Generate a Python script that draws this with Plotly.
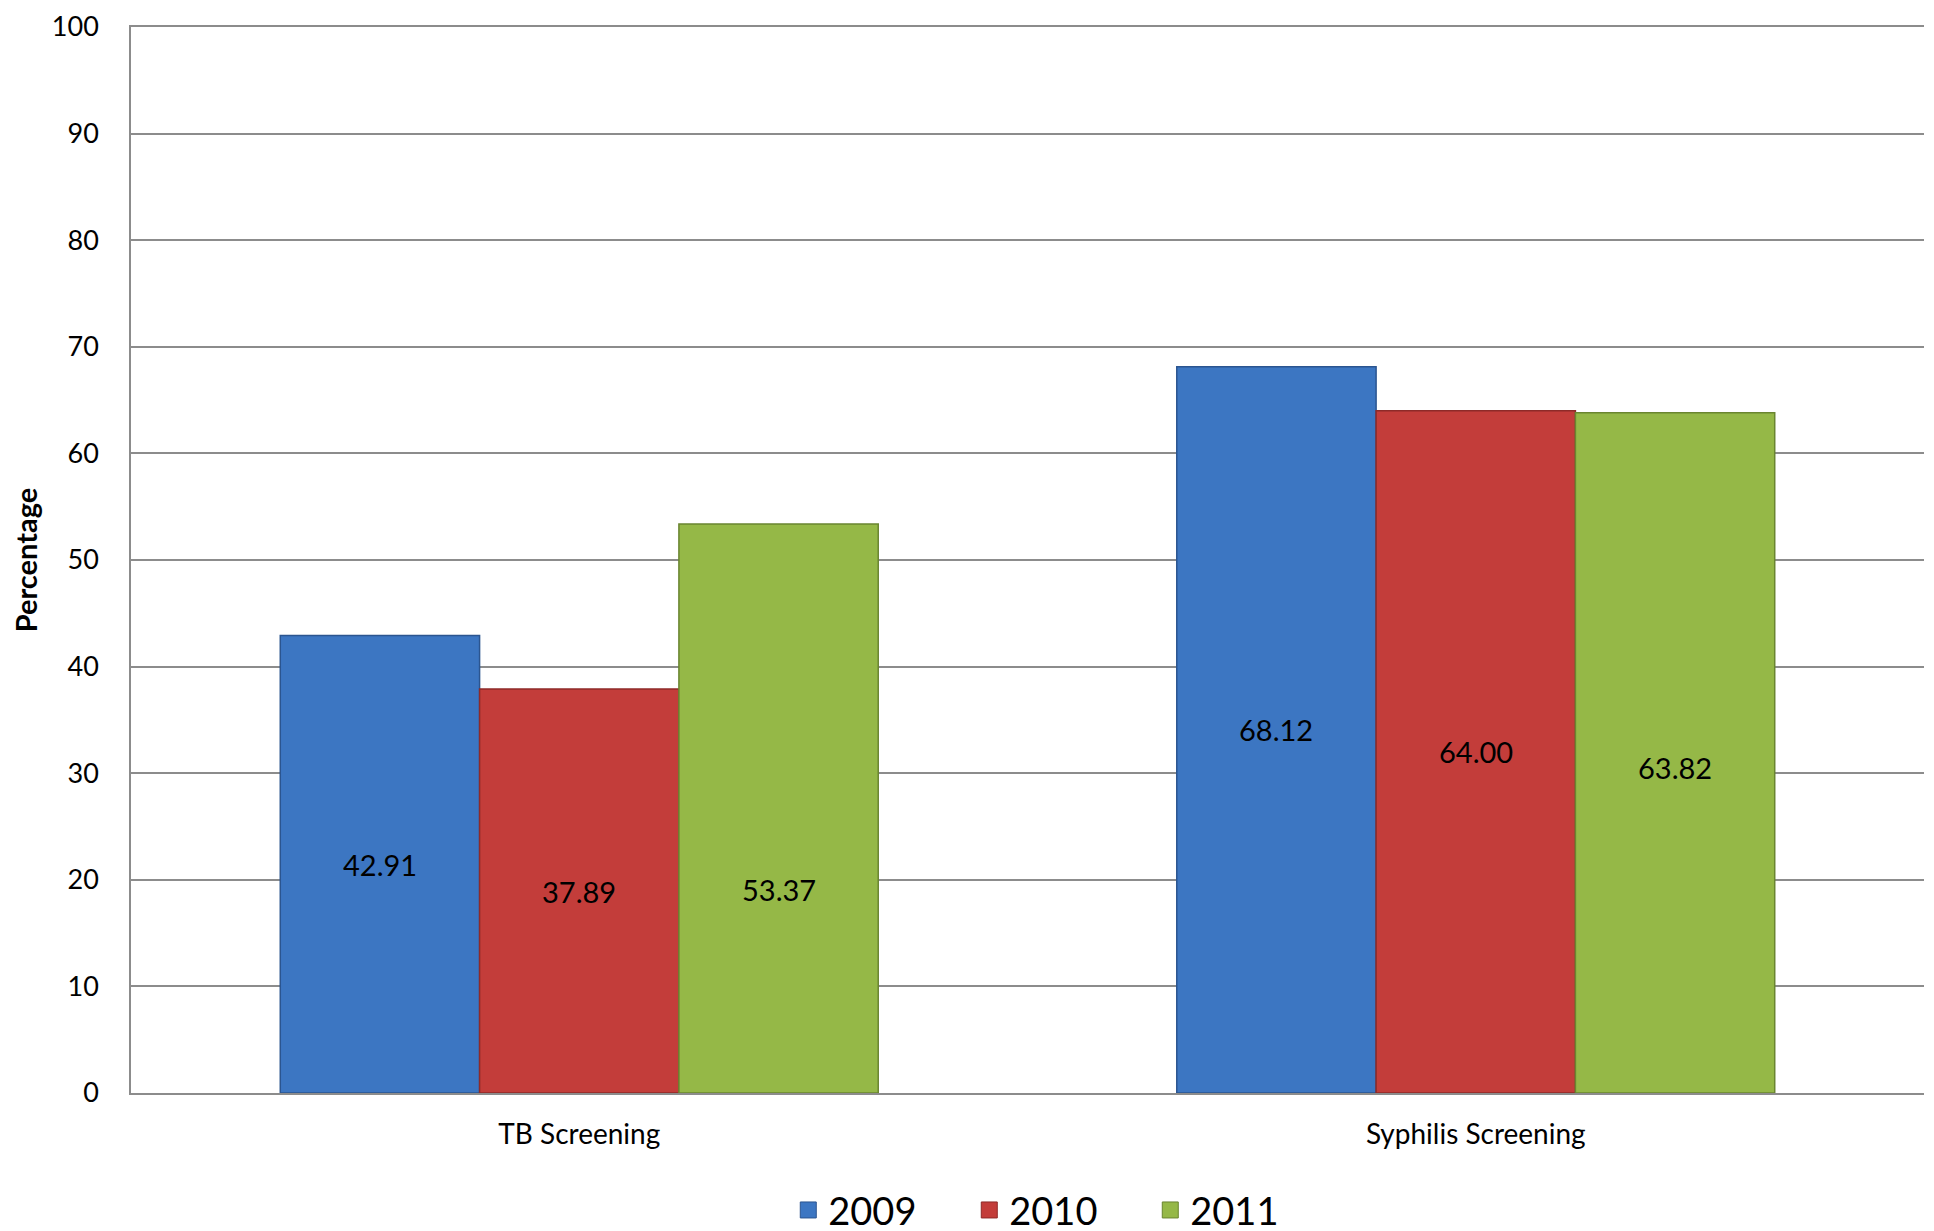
import plotly.graph_objects as go

categories = ["TB Screening", "Syphilis Screening"]
years = ["2009", "2010", "2011"]
values_2009 = [42.91, 68.12]
values_2010 = [37.89, 64.00]
values_2011 = [53.37, 63.82]
series = [values_2009, values_2010, values_2011]
# vertical nudges (in axis units) applied to a few value labels, as in the reference
label_nudges = [[0, 0], [0, 0], [-7.6, -1.4]]
fill_colors = ["#3C76C2", "#C33D3A", "#95B847"]
line_colors = ["#2B5590", "#8E2A28", "#6A8530"]
y_ticks = [0, 10, 20, 30, 40, 50, 60, 70, 80, 90, 100]

FONT = "Lato"

fig = go.Figure()
for i, (name, vals, fc, lc) in enumerate(zip(years, series, fill_colors, line_colors)):
    fig.add_trace(go.Bar(
        x=categories, y=vals, name=name,
        marker=dict(color=fc, line=dict(color=lc, width=1.5)),
        showlegend=False, offsetgroup=str(i),
    ))
    fig.add_trace(go.Scatter(
        x=[None], y=[None], mode="markers", name=name,
        marker=dict(symbol="square", size=16, color=fc, line=dict(color=lc, width=1)),
        showlegend=True,
    ))

# value labels placed with the axes' own scales (x: category offset per series)
n = len(years)
bargap = 0.333
bw = (1 - bargap) / n
for i, vals in enumerate(series):
    for j, v in enumerate(vals):
        xpos = j - (1 - bargap) / 2 + bw * (i + 0.5)
        fig.add_annotation(
            x=xpos, y=v / 2 + label_nudges[i][j], xref="x", yref="y",
            text=f"{v:.2f}", showarrow=False,
            font=dict(family=FONT, size=29, color="black"),
            xanchor="center", yanchor="middle",
        )

fig.update_layout(
    width=1934, height=1231,
    margin=dict(l=123, r=18, t=19, b=146, autoexpand=False),
    paper_bgcolor="white", plot_bgcolor="white",
    barmode="group", bargap=bargap, bargroupgap=0,
    font=dict(family=FONT, color="black"),
    legend=dict(
        orientation="h", x=0.518, xanchor="center", y=-0.11, yanchor="middle",
        font=dict(family=FONT, size=38, color="black"),
        entrywidth=136, entrywidthmode="pixels",
        itemclick=False,
    ),
)
fig.update_yaxes(
    range=[0, 100], tickvals=y_ticks, automargin=False,
    showgrid=True, gridcolor="#8C8C8C", gridwidth=1.5,
    showline=True, linecolor="#8C8C8C", linewidth=1.5,
    zeroline=False,
    ticks="", ticklabelstandoff=25, ticklabeloverflow="allow",
    tickfont=dict(family=FONT, size=27, color="black"),
    title=dict(text="<b>Percentage</b>", font=dict(family=FONT, size=29, color="black"), standoff=20),
)
fig.update_xaxes(
    range=[-0.5, 1.5], automargin=False,
    showline=True, mirror=True, linecolor="#8C8C8C", linewidth=1.5,
    showgrid=False, ticks="", ticklabelstandoff=16,
    tickfont=dict(family=FONT, size=28, color="black"),
)

fig.write_html("out.html")
